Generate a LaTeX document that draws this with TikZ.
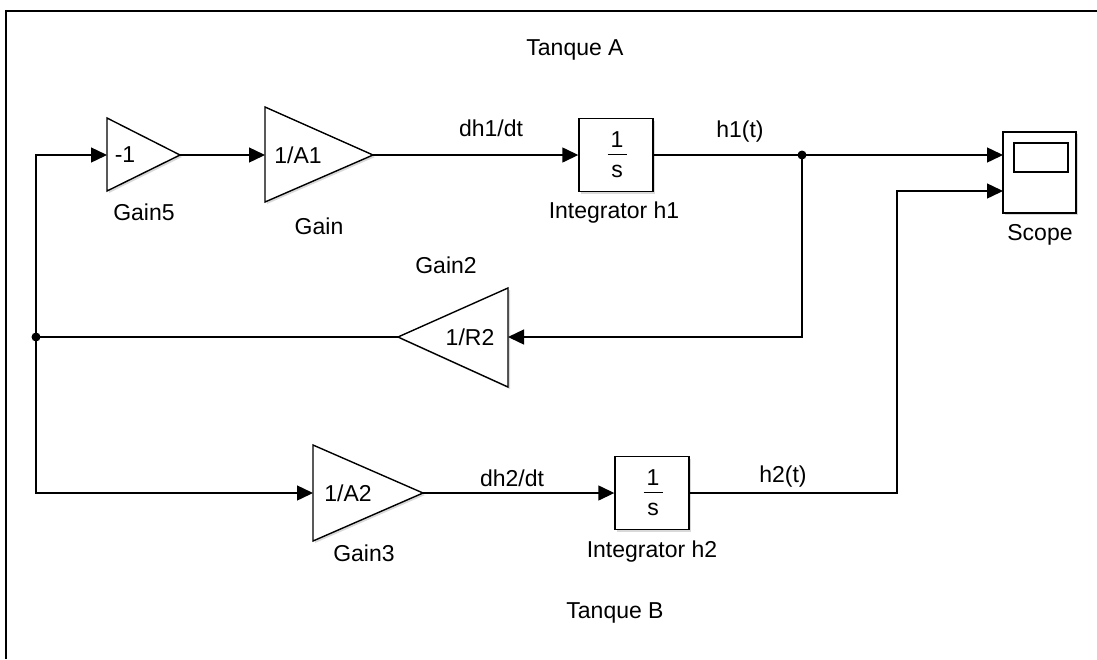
\documentclass[tikz,border=0pt]{standalone}
\usepackage{fontspec}
\setmainfont{Liberation Sans}
\usetikzlibrary{arrows.meta,shadows}
\begin{document}
\begin{tikzpicture}[x=0.5pt,y=-0.5pt,
  blk/.style={draw=black, line width=0.7pt, fill=white, drop shadow={shadow xshift=1pt,shadow yshift=-1pt,opacity=0.3,fill=gray}},
  wire/.style={line width=0.7pt},
  sig/.style={wire,-{Triangle[length=8pt,width=7.5pt]}},
  lbl/.style={font=\fontsize{11.5}{13}\selectfont, inner sep=0pt},
  dot/.style={circle, fill=black, inner sep=0pt, minimum size=4.5pt}
]
\useasboundingbox (0,0) rectangle (1097,659);
% frame
\draw[line width=1.2pt] (6,659) -- (6,11) -- (1097,11);

% Gain5
\path[blk] (107,118) -- (180,155) -- (107,191) -- cycle;
\coordinate (g5in) at (107,155);
\coordinate (g5out) at (180,155);
\node[lbl] (g5val) at (125,155) {-1};
\node[lbl] (g5name) at (144,212) {Gain5};

% Gain
\path[blk] (265,107) -- (373,155) -- (265,202) -- cycle;
\coordinate (gin) at (265,155);
\coordinate (gout) at (373,155);
\node[lbl] (gval) at (298,155) {1/A1};
\node[lbl] (gname) at (319,226) {Gain};

% Integrator h1
\node[blk, minimum width=37pt, minimum height=36.5pt, inner sep=0pt] (int1) at (616,155) {};
\node[lbl] (int1num) at (617,140) {1};
\draw[wire] (int1num.south) ++(-9.5,6) coordinate (b1a) -- ++(19,0) coordinate (b1b);
\node[lbl] (int1den) at (617,171) {s};
\node[lbl] (int1name) at (614,213) {Integrator h1};

% Scope
\node[blk, minimum width=36.5pt, minimum height=40.5pt, inner sep=0pt] (scope) at (1039.5,172.5) {};
\draw[line width=0.8pt] (1014,143) rectangle (1068,172);
\coordinate (sc1) at (1003,155);
\coordinate (sc2) at (1003,191);
\node[lbl] (scname) at (1040,235) {Scope};

% Gain2
\path[blk] (398,337) -- (508,288) -- (508,387) -- cycle;
\coordinate (g2in) at (508,337);
\coordinate (g2out) at (398,337);
\node[lbl] (g2val) at (470,337) {1/R2};
\node[lbl] (g2name) at (446,265) {Gain2};

% Gain3
\path[blk] (313,445) -- (423,493) -- (313,541) -- cycle;
\coordinate (g3in) at (313,493);
\coordinate (g3out) at (423,493);
\node[lbl] (g3val) at (348,493) {1/A2};
\node[lbl] (g3name) at (364,553) {Gain3};

% Integrator h2
\node[blk, minimum width=37pt, minimum height=36.5pt, inner sep=0pt] (int2) at (652,493) {};
\node[lbl] (int2num) at (653,478) {1};
\draw[wire] (int2num.south) ++(-9.5,6) coordinate (b2a) -- ++(19,0) coordinate (b2b);
\node[lbl] (int2den) at (653,509) {s};
\node[lbl] (int2name) at (652,552) {Integrator h2};

% dots
\node[dot] (d1) at (802,155) {};
\node[dot] (d2) at (36,337) {};
\coordinate (c1) at (897,493);
\coordinate (c2) at (897,191);

% wires
\draw[sig] (d2.center) |- (g5in);
\draw[sig] (d2.center) |- (g3in);
\draw[wire] (g2out) -- (d2.center);
\draw[sig] (g5out) -- (gin);
\draw[sig] (gout) -- (int1.west);
\draw[wire] (int1.east) -- (d1.center);
\draw[sig] (d1.center) -- (sc1);
\draw[sig] (d1.center) |- (g2in);
\draw[sig] (g3out) -- (int2.west);
\draw[sig] (int2.east) -- (c1) -- (c2) -- (sc2);

% signal labels
\node[lbl] (l1) at (491,128) {dh1/dt};
\node[lbl] (l2) at (740,132) {h1(t)};
\node[lbl] (l3) at (512,478) {dh2/dt};
\node[lbl] (l4) at (783,477) {h2(t)};
\node[lbl] (ta) at (575,50) {Tanque A};
\node[lbl] (tb) at (615,613) {Tanque B};
\end{tikzpicture}
\end{document}
